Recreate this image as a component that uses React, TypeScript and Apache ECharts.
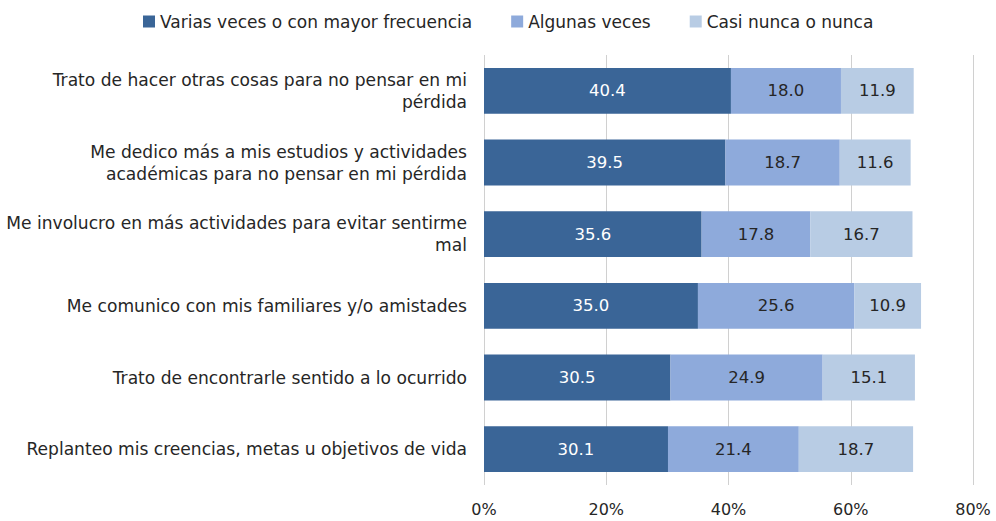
import React, { useEffect, useRef } from "react";
import * as echarts from "echarts";

const categories = [
  "Trato de hacer otras cosas para no pensar en mi\npérdida",
  "Me dedico más a mis estudios y actividades\nacadémicas para no pensar en mi pérdida",
  "Me involucro en más actividades para evitar sentirme\nmal",
  "Me comunico con mis familiares y/o amistades",
  "Trato de encontrarle sentido a lo ocurrido",
  "Replanteo mis creencias, metas u objetivos de vida",
];
const seriesNames = ["Varias veces o con mayor frecuencia", "Algunas veces", "Casi nunca o nunca"];
const variasVeces = [40.4, 39.5, 35.6, 35.0, 30.5, 30.1];
const algunasVeces = [18.0, 18.7, 17.8, 25.6, 24.9, 21.4];
const casiNunca = [11.9, 11.6, 16.7, 10.9, 15.1, 18.7];
const xTicks = [0, 20, 40, 60, 80];

const colors = ["#3a6597", "#8eaadb", "#b8cce4"];
const labelColors = ["#ffffff", "#262626", "#262626"];
const FONT = "DejaVu Sans";

export default function App() {
  const ref = useRef<HTMLDivElement>(null);
  useEffect(() => {
    document.body.style.margin = "0";
    if (!ref.current) return;
    const chart = echarts.init(ref.current, null, { renderer: "svg" });
    const data = [variasVeces, algunasVeces, casiNunca];
    chart.setOption({
      animation: false,
      textStyle: { fontFamily: FONT },
      legend: {
        top: 8,
        left: 138,
        itemWidth: 12,
        itemHeight: 12,
        itemGap: 39,
        icon: "rect",
        textStyle: { fontSize: 17, color: "#262626", fontFamily: FONT },
        data: seriesNames,
      },
      grid: { left: 484, right: 23, top: 55, bottom: 36, containLabel: false, outerBoundsMode: "none" },
      xAxis: {
        type: "value",
        min: xTicks[0],
        max: xTicks[xTicks.length - 1],
        interval: 20,
        axisLabel: {
          formatter: (v: number) => v + "%",
          fontSize: 16,
          color: "#262626",
          margin: 16,
        },
        axisLine: { show: false },
        axisTick: { show: false },
        splitLine: { show: true, lineStyle: { color: "#d0d0d0", width: 1 } },
      },
      yAxis: {
        type: "category",
        data: categories,
        inverse: true,
        axisLine: { show: false },
        axisTick: { show: false },
        axisLabel: {
          fontSize: 17.1,
          color: "#262626",
          margin: 17,
          align: "right",
          lineHeight: 22,
        },
      },
      series: seriesNames.map((name, i) => ({
        name,
        type: "bar",
        stack: "total",
        barCategoryGap: "36%",
        data: data[i],
        itemStyle: { color: colors[i] },
        label: {
          show: true,
          position: "inside",
          formatter: (p: any) => Number(p.value).toFixed(1),
          color: labelColors[i],
          fontSize: 16.5,
          fontFamily: FONT,
        },
      })),
    });
    return () => chart.dispose();
  }, []);
  return <div ref={ref} style={{ width: 996, height: 521 }} />;
}
